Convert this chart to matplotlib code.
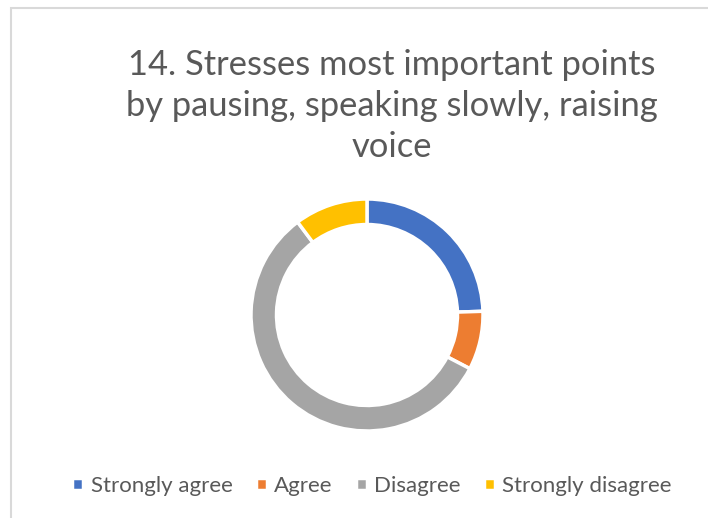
import matplotlib
matplotlib.use('Agg')
import matplotlib.pyplot as plt
from matplotlib.patches import Rectangle

# survey answers for question 14
categories = ['Strongly agree', 'Agree', 'Disagree', 'Strongly disagree']
counts = [12, 4, 28, 5]
colors = ['#4472C4', '#ED7D31', '#A5A5A5', '#FFC000']
title_lines = ['14. Stresses most important points',
               'by pausing, speaking slowly, raising',
               'voice']

W, H = 708, 518
plt.rcParams['font.family'] = ['Lato', 'DejaVu Sans']
fig = plt.figure(figsize=(W / 100, H / 100), dpi=100)

# light frame of the chart area (runs off the right and bottom edges)
fig.patches.append(Rectangle((11 / W, -0.1), 1.2, 1 - 8 / H + 0.1,
                             transform=fig.transFigure, fill=False,
                             edgecolor='#D9D9D9', linewidth=1.5))

# title, one line at a time
for i, line in enumerate(title_lines):
    fig.text(392 / W, 1 - (75 + 41 * i) / H, line, ha='center', va='baseline',
             fontsize=24.8, color='#595959')

# donut
cx, cy, r = 367, 315, 116
ax = fig.add_axes([(cx - r) / W, 1 - (cy + r) / H, 2 * r / W, 2 * r / H])
wedges, _ = ax.pie(counts, colors=colors, startangle=90, counterclock=False,
                   radius=1, wedgeprops=dict(width=0.22, edgecolor='white', linewidth=2.5))
ax.set_xlim(-1, 1)
ax.set_ylim(-1, 1)
ax.axis('off')

leg = fig.legend(wedges, categories, loc='center', bbox_to_anchor=(372 / W, 1 - 486 / H),
                 ncol=4, frameon=False, fontsize=16, handlelength=0.5, handleheight=0.5,
                 handletextpad=0.32, columnspacing=1.05)
for t in leg.get_texts():
    t.set_color('#595959')

fig.savefig('out.png', dpi=100)
